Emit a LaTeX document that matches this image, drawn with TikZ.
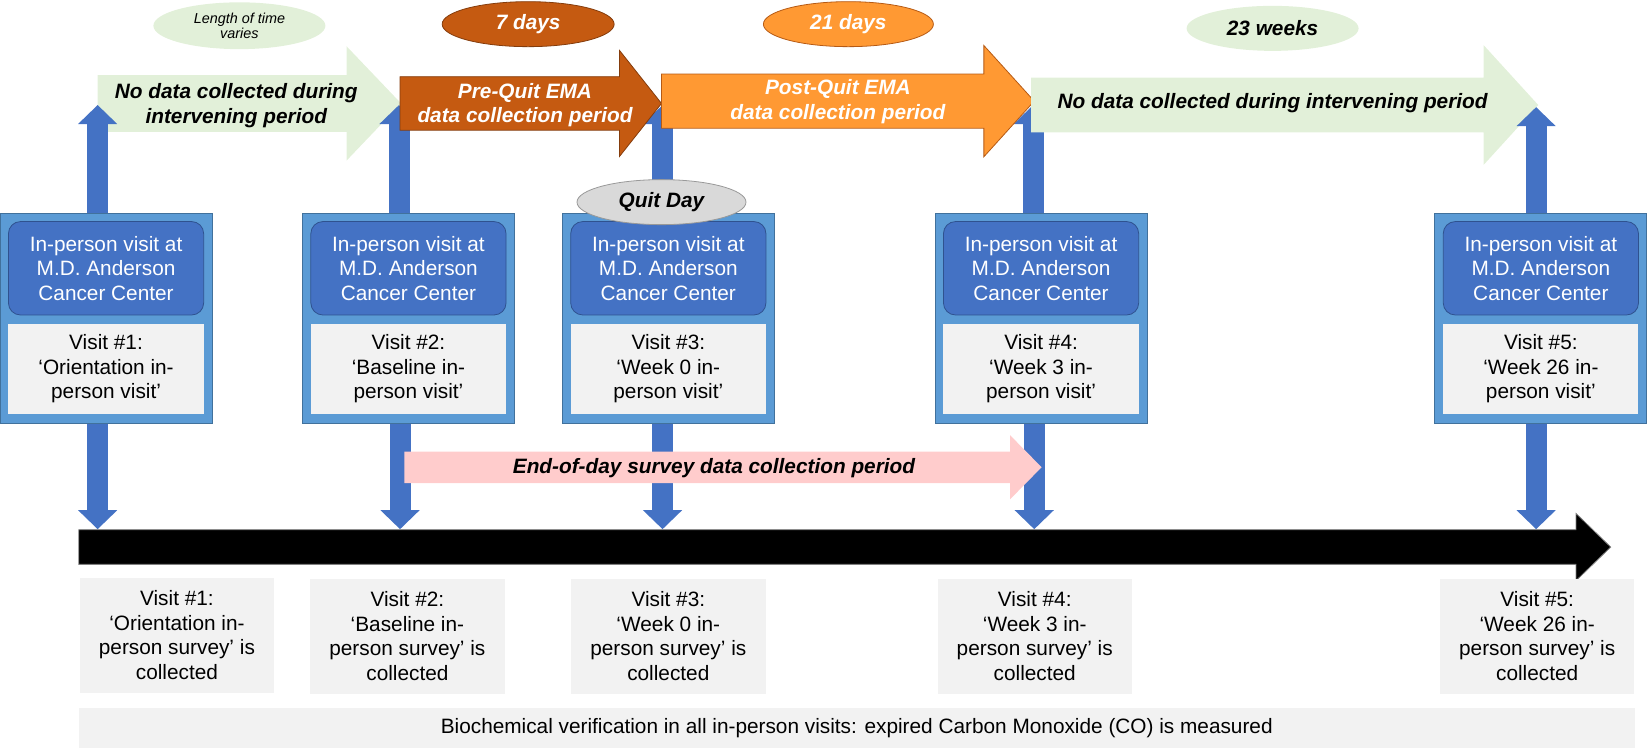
\documentclass[tikz,border=0pt]{standalone}
\usepackage{fontspec}
\setmainfont{Liberation Sans}
\usepackage{tikz}
\usetikzlibrary{arrows.meta,shapes.geometric}

\definecolor{boxblue}{HTML}{5B9BD5}
\definecolor{boxedge}{HTML}{41719C}
\definecolor{siteblue}{HTML}{4472C4}
\definecolor{siteedge}{HTML}{2F528F}
\definecolor{panelgray}{HTML}{F2F2F2}
\definecolor{greenfill}{HTML}{E2F0D9}
\definecolor{darkorange}{HTML}{C55A11}
\definecolor{darkedge}{HTML}{843C0C}
\definecolor{lightorange}{HTML}{FF9933}
\definecolor{orangeedge}{HTML}{B65A14}
\definecolor{eodpink}{HTML}{FFCCCC}
\definecolor{quitgray}{HTML}{D9D9D9}

% block arrow: style, start, head base, tip, y, body half, head half
\newcommand{\blockarrow}[7]{%
  \path[#1] (#2,#5-#6) -- (#3,#5-#6) -- (#3,#5-#7) -- (#4,#5)
    -- (#3,#5+#7) -- (#3,#5+#6) -- (#2,#5+#6) -- cycle;}

\begin{document}
\begin{tikzpicture}[x=0.525pt,y=-0.525pt,
    every node/.style={font=\fontsize{10.4}{12.25}\selectfont,align=center,inner sep=0pt},
    bold/.style={font=\fontsize{10.4}{12.25}\selectfont\bfseries\itshape},
    visit/.style={draw=boxedge,fill=boxblue,minimum width=106pt,minimum height=105pt},
    site/.style={draw=siteedge,fill=siteblue,text=white,rounded corners=6pt,
                 minimum width=97.6pt,minimum height=46.7pt},
    panel/.style={fill=panelgray,minimum width=97.6pt,minimum height=45.2pt},
    survey/.style={fill=panelgray,minimum width=97.2pt,minimum height=57.7pt},
    tag/.style={ellipse,bold,minimum width=86pt,minimum height=22.5pt},
    vlink/.style={draw=siteblue,line width=10.5pt,-{Triangle[width=19pt,length=9.5pt]}}]

  \useasboundingbox (0,0) rectangle (1570.5,716.2);

  \node[tag,fill=greenfill,minimum height=23.4pt,font=\fontsize{7.2}{7.6}\selectfont\itshape] (vary) at (228,24.5) {Length of time\\varies};
  \node[tag,fill=darkorange,draw=darkedge,text=white] (days7)  at (503,23) {7 days};
  \node[tag,fill=lightorange,draw=orangeedge,text=white,minimum width=85pt] (days21) at (808,23) {21 days};
  \node[tag,fill=greenfill] (weeks23) at (1212,27) {23 weeks};

  \coordinate (t1) at (93,100);
  \coordinate (t2) at (380,100);
  \coordinate (t3) at (631,100);
  \coordinate (t4) at (984,100);
  \coordinate (t5) at (1463,102);
  \coordinate (d1) at (93,504);
  \coordinate (d2) at (381,504);
  \coordinate (d3) at (631,504);
  \coordinate (d4) at (985,504);
  \coordinate (d5) at (1463,504);

  \node[visit] (v1) at (101,303.5) {};
  \node[visit] (v2) at (389,303.5) {};
  \node[visit] (v3) at (636.5,303.5) {};
  \node[visit] (v4) at (991.5,303.5) {};
  \node[visit] (v5) at (1467.5,303.5) {};

  \blockarrow{fill=greenfill}{93}{330}{382}{98.5}{27}{54.5}
  \draw[vlink] (v2.north -| t2) -- (t2);
  \draw[vlink] (v3.north -| t3) -- (t3);
  \draw[vlink] (v4.north -| t4) -- (t4);
  \blockarrow{fill=darkorange,draw=darkedge}{381}{590}{630}{98.5}{25.5}{50.5}
  \blockarrow{fill=lightorange,draw=orangeedge}{630}{937}{985}{96.3}{25.8}{53}
  \blockarrow{fill=greenfill}{982}{1413}{1465}{100}{26}{57}
  \draw[vlink] (v1.north -| t1) -- (t1);
  \draw[vlink] (v5.north -| t5) -- (t5);

  \node[bold] (gap1) at (225,100.5) {No data collected during\\intervening period};
  \node[bold,text=white] (prequit) at (500,100) {Pre-Quit EMA\\data collection period};
  \node[bold,text=white] (postquit) at (798,97) {Post-Quit EMA\\data collection period};
  \node[bold] (gap2) at (1212,98) {No data collected during intervening period};

  \node[site] (s1) at (101,255.5) {In-person visit at\\M.D. Anderson\\Cancer Center};
  \node[site] (s2) at (389,255.5) {In-person visit at\\M.D. Anderson\\Cancer Center};
  \node[site] (s3) at (636.5,255.5) {In-person visit at\\M.D. Anderson\\Cancer Center};
  \node[site] (s4) at (991.5,255.5) {In-person visit at\\M.D. Anderson\\Cancer Center};
  \node[site] (s5) at (1467.5,255.5) {In-person visit at\\M.D. Anderson\\Cancer Center};

  \node[panel] (p1) at (101,351.5) {Visit \#1:\\‘Orientation in-\\person visit’};
  \node[panel] (p2) at (389,351.5) {Visit \#2:\\‘Baseline in-\\person visit’};
  \node[panel] (p3) at (636.5,351.5) {Visit \#3:\\‘Week 0 in-\\person visit’};
  \node[panel] (p4) at (991.5,351.5) {Visit \#4:\\‘Week 3 in-\\person visit’};
  \node[panel] (p5) at (1467.5,351.5) {Visit \#5:\\‘Week 26 in-\\person visit’};

  \node[tag,fill=quitgray,draw=gray!80,minimum width=84.5pt] (quit) at (630,192.5) {Quit Day};

  \draw[vlink] (v1.south -| d1) -- (d1);
  \draw[vlink] (v2.south -| d2) -- (d2);
  \draw[vlink] (v3.south -| d3) -- (d3);
  \draw[vlink] (v4.south -| d4) -- (d4);
  \draw[vlink] (v5.south -| d5) -- (d5);
  \blockarrow{fill=eodpink}{385}{962}{992}{445}{15}{30.5}
  \node[bold] (eod) at (680,446) {End-of-day survey data collection period};

  \blockarrow{fill=black,draw=gray}{75}{1501}{1534}{521}{16.5}{32}

  \node[survey] (b1) at (168.5,605) {Visit \#1:\\‘Orientation in-\\person survey’ is\\collected};
  \node[survey] (b2) at (388,606) {Visit \#2:\\‘Baseline in-\\person survey’ is\\collected};
  \node[survey] (b3) at (636.5,606) {Visit \#3:\\‘Week 0 in-\\person survey’ is\\collected};
  \node[survey] (b4) at (985.5,606) {Visit \#4:\\‘Week 3 in-\\person survey’ is\\collected};
  \node[survey] (b5) at (1464,606) {Visit \#5:\\‘Week 26 in-\\person survey’ is\\collected};

  \node[fill=panelgray,minimum width=778pt,minimum height=20pt] (co) at (816,693)
    {Biochemical verification in all in-person visits: expired Carbon Monoxide (CO) is measured};
\end{tikzpicture}
\end{document}
